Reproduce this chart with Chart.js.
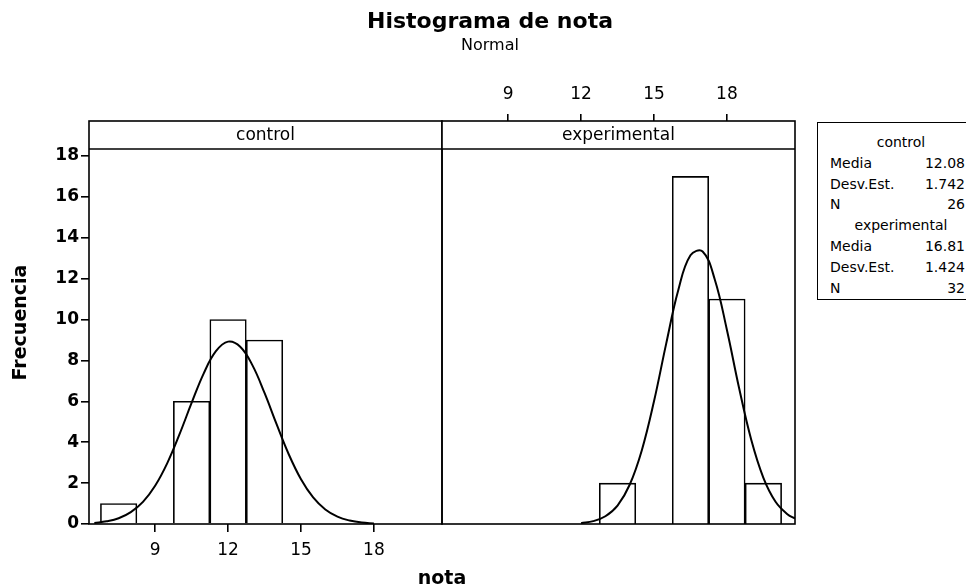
<!DOCTYPE html>
<html>
<head>
<meta charset="utf-8">
<script src="https://cdn.jsdelivr.net/npm/chart.js@4"></script>
<style>
  body { margin: 0; background: #fff; }
  #wrap { position: relative; width: 966px; height: 587px; overflow: hidden; font-family: "DejaVu Sans", sans-serif; color: #000; }
  canvas { position: absolute; top: 0; }
  #cvControl { left: 0; }
  #cvExp { left: 438px; }
  .txt { position: absolute; white-space: nowrap; }
  #title { left: 0; width: 980px; top: 8px; text-align: center; font-weight: bold; font-size: 22px; }
  #subtitle { left: 0; width: 980px; top: 35px; text-align: center; font-size: 16px; }
  #xtitle { left: 342px; width: 200px; top: 566px; text-align: center; font-weight: bold; font-size: 19px; }
  #legend { position: absolute; left: 817px; top: 122px; width: 170px; height: 176px; border: 1.5px solid #000; font-size: 14px; }
  #legend .row { position: absolute; left: 12px; width: 135px; }
  #legend .row span { position: absolute; right: 0; }
  #legend .head { position: absolute; left: 0; width: 166px; text-align: center; }
</style>
</head>
<body>
<div id="wrap">
  <canvas id="cvControl" width="446" height="587"></canvas>
  <canvas id="cvExp" width="362" height="587"></canvas>
  <div class="txt" id="title">Histograma de nota</div>
  <div class="txt" id="subtitle">Normal</div>
  <div class="txt" id="xtitle">nota</div>
  <div id="legend"></div>
</div>
<script>
// histogram bins (midpoints) and counts
const controlBins = [7.5, 9, 10.5, 12, 13.5];
const controlCounts = [1, 0, 6, 10, 9];
const expBins = [13.5, 15, 16.5, 18, 19.5];
const expCounts = [2, 0, 17, 11, 2];

// fitted normal curves
const controlCurveX = [6.5, 7, 7.5, 8, 8.5, 9, 9.5, 10, 10.5, 11, 11.5, 12, 12.5, 13, 13.5, 14, 14.5, 15, 15.5, 16, 16.5, 17, 17.5, 18];
const controlCurveY = [0.05, 0.13, 0.28, 0.58, 1.08, 1.87, 2.98, 4.38, 5.92, 7.37, 8.45, 8.92, 8.67, 7.77, 6.41, 4.87, 3.40, 2.19, 1.30, 0.71, 0.36, 0.17, 0.07, 0.03];
const expCurveX = [12, 12.5, 13, 13.5, 14, 14.5, 15, 15.5, 16, 16.5, 17, 17.5, 18, 18.5, 19, 19.5, 20, 20.5, 20.8];
const expCurveY = [0.04, 0.14, 0.38, 0.90, 1.92, 3.61, 6.00, 8.81, 11.44, 13.14, 13.33, 11.96, 9.49, 6.65, 4.12, 2.26, 1.09, 0.47, 0.27];

const xTicks = [9, 12, 15, 18];
const yTicks = [0, 2, 4, 6, 8, 10, 12, 14, 16, 18];

// legend stats
const legendGroups = ['control', 'experimental'];
const legendLabels = ['Media', 'Desv.Est.', 'N'];
const legendValues = [['12.08', '1.742', '26'], ['16.81', '1.424', '32']];

const legend = document.getElementById('legend');
let rowTop = 11;
legendGroups.forEach((g, gi) => {
  legend.insertAdjacentHTML('beforeend', `<div class="head" style="top:${rowTop}px">${g}</div>`);
  rowTop += 20.8;
  legendLabels.forEach((l, li) => {
    legend.insertAdjacentHTML('beforeend', `<div class="row" style="top:${rowTop}px">${l}<span>${legendValues[gi][li]}</span></div>`);
    rowTop += 20.8;
  });
});

// frame around each panel with the header strip
const panelFrame = {
  id: 'panelFrame',
  afterDraw(chart, args, opts) {
    const { ctx, chartArea: a } = chart;
    ctx.save();
    ctx.strokeStyle = '#000';
    ctx.lineWidth = 1.6;
    ctx.fillStyle = '#fff';
    ctx.fillRect(a.left, a.top, a.right - a.left, 28);
    ctx.strokeRect(a.left, a.top, a.right - a.left, a.bottom - a.top);
    ctx.beginPath();
    ctx.moveTo(a.left, a.top + 28);
    ctx.lineTo(a.right, a.top + 28);
    ctx.stroke();
    ctx.fillStyle = '#000';
    ctx.font = '17px "DejaVu Sans"';
    ctx.textAlign = 'center';
    ctx.textBaseline = 'middle';
    ctx.fillText(opts.label, (a.left + a.right) / 2, a.top + 15);
    ctx.restore();
  }
};

Chart.defaults.font.family = '"DejaVu Sans", sans-serif';
Chart.defaults.color = '#000';

function makePanel(canvasId, label, bins, counts, cx, cy, isLeft) {
  return new Chart(document.getElementById(canvasId), {
    type: 'bar',
    data: {
      datasets: [{
        type: 'line',
        data: cx.map((x, i) => ({ x: x, y: cy[i] })),
        borderColor: '#000',
        borderWidth: 2,
        pointRadius: 0,
        tension: 0.4,
        fill: false
      }, {
        type: 'bar',
        data: bins.map((x, i) => ({ x: x, y: counts[i] })),
        backgroundColor: '#fff',
        borderColor: '#000',
        borderWidth: 1.6,
        barPercentage: 1,
        categoryPercentage: 1
      }]
    },
    plugins: [panelFrame],
    options: {
      responsive: false,
      animation: false,
      layout: { padding: isLeft ? { top: 121, right: 4, left: 0, bottom: 0 } : { top: 0, right: 5, left: 4, bottom: 63 } },
      plugins: {
        legend: { display: false },
        tooltip: { enabled: false },
        panelFrame: { label: label }
      },
      scales: {
        x: {
          type: 'linear',
          position: isLeft ? 'bottom' : 'top',
          min: 6.28,
          max: 20.8,
          offset: false,
          afterBuildTicks: s => { s.ticks = xTicks.map(v => ({ value: v })); },
          afterFit: s => { s.height = isLeft ? 63 : 121; },
          border: { display: false },
          grid: { offset: false, drawOnChartArea: false, color: '#000', lineWidth: 1.6, tickLength: isLeft ? 8 : 7 },
          ticks: { font: { size: 17 }, padding: isLeft ? 8 : 9, maxRotation: 0 }
        },
        y: {
          display: isLeft,
          min: 0,
          max: 19.71,
          afterBuildTicks: s => { s.ticks = yTicks.map(v => ({ value: v })); },
          afterFit: s => { if (isLeft) s.width = 89; },
          border: { display: false },
          grid: { drawOnChartArea: false, color: '#000', lineWidth: 1.6, tickLength: 8 },
          ticks: { font: { size: 17, weight: 'bold' }, padding: 2 },
          title: { display: true, text: 'Frecuencia', font: { size: 19, weight: 'bold' }, padding: 10 }
        }
      }
    }
  });
}

makePanel('cvControl', 'control', controlBins, controlCounts, controlCurveX, controlCurveY, true);
makePanel('cvExp', 'experimental', expBins, expCounts, expCurveX, expCurveY, false);
</script>
</body>
</html>
